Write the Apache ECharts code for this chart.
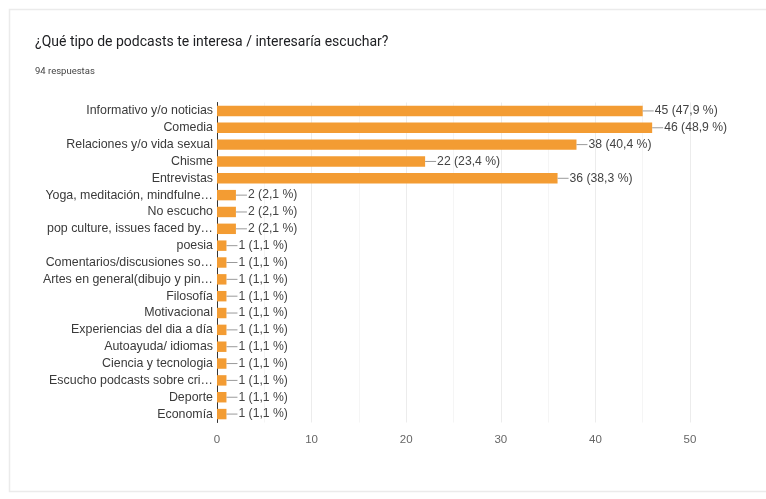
<!DOCTYPE html>
<html>
<head>
<meta charset="utf-8">
<script src="https://cdn.jsdelivr.net/npm/echarts@6/dist/echarts.min.js"></script>
<style>
  html, body { margin: 0; padding: 0; background: #ffffff; }
  #chart { width: 766px; height: 499px; }
</style>
</head>
<body>
<div id="chart"></div>
<script>
// Survey question and response count
const titleText = '¿Qué tipo de podcasts te interesa / interesaría escuchar?';
const totalResponses = 94;
const subtitleText = totalResponses + ' respuestas';

// Answer options (top to bottom) and number of respondents for each
const categories = [
  'Informativo y/o noticias',
  'Comedia',
  'Relaciones y/o vida sexual',
  'Chisme',
  'Entrevistas',
  'Yoga, meditación, mindfulne…',
  'No escucho',
  'pop culture, issues faced by…',
  'poesia',
  'Comentarios/discusiones so…',
  'Artes en general(dibujo y pin…',
  'Filosofía',
  'Motivacional',
  'Experiencias del dia a día',
  'Autoayuda/ idiomas',
  'Ciencia y tecnologia',
  'Escucho podcasts sobre cri…',
  'Deporte',
  'Economía'
];
const counts = [45, 46, 38, 22, 36, 2, 2, 2, 1, 1, 1, 1, 1, 1, 1, 1, 1, 1, 1];

// X axis ticks
const xMin = 0, xMax = 50, xStep = 10;

const chart = echarts.init(document.getElementById('chart'), null, { renderer: 'canvas' });

function pct(v) {
  return (v / totalResponses * 100).toFixed(1).replace('.', ',');
}

chart.setOption({
  animation: false,
  textStyle: { fontFamily: 'Liberation Sans, Arial, sans-serif' },
  graphic: [
    {
      type: 'rect',
      shape: { x: 9.5, y: 9.5, width: 800, height: 482 },
      style: { fill: 'none', stroke: '#ebebeb', lineWidth: 1.5 },
      silent: true
    },
    {
      type: 'text',
      left: 35, top: 35,
      style: {
        text: titleText,
        font: '14px Roboto, "Liberation Sans", sans-serif',
        fill: '#202124'
      }
    },
    {
      type: 'text',
      left: 35, top: 67,
      style: {
        text: subtitleText,
        font: '9.5px Roboto, "Liberation Sans", sans-serif',
        fill: '#444'
      }
    }
  ],
  grid: { left: 217, right: 76, top: 102.5, bottom: 76.5, containLabel: false },
  xAxis: {
    type: 'value',
    min: xMin, max: xMax, interval: xStep,
    axisLine: { show: false },
    axisTick: { show: false },
    axisLabel: { color: '#666', fontSize: 11.5, margin: 11 },
    splitLine: { show: true, lineStyle: { color: '#ececec', width: 1 } },
    minorTick: { show: false, splitNumber: 2 },
    minorSplitLine: { show: true, lineStyle: { color: '#f5f5f5', width: 1 } }
  },
  yAxis: {
    type: 'category',
    data: categories,
    inverse: true,
    axisLine: { show: true, lineStyle: { color: '#333', width: 1 } },
    axisTick: { show: false },
    axisLabel: { color: '#3a3a3a', fontSize: 12.4, margin: 4, interval: 0, hideOverlap: false }
  },
  series: [{
    type: 'bar',
    data: counts,
    barCategoryGap: '38%',
    itemStyle: { color: '#f39c33' },
    label: {
      show: true,
      position: 'right',
      distance: 0,
      formatter: function (p) {
        return '{ln|}{t|' + p.value + ' (' + pct(p.value) + ' %)}';
      },
      rich: {
        ln: { width: 11, height: 1, backgroundColor: '#9a9a9a' },
        t: { color: '#444', fontSize: 12.2, padding: [0, 0, 0, 1] }
      }
    }
  }]
});
</script>
</body>
</html>
